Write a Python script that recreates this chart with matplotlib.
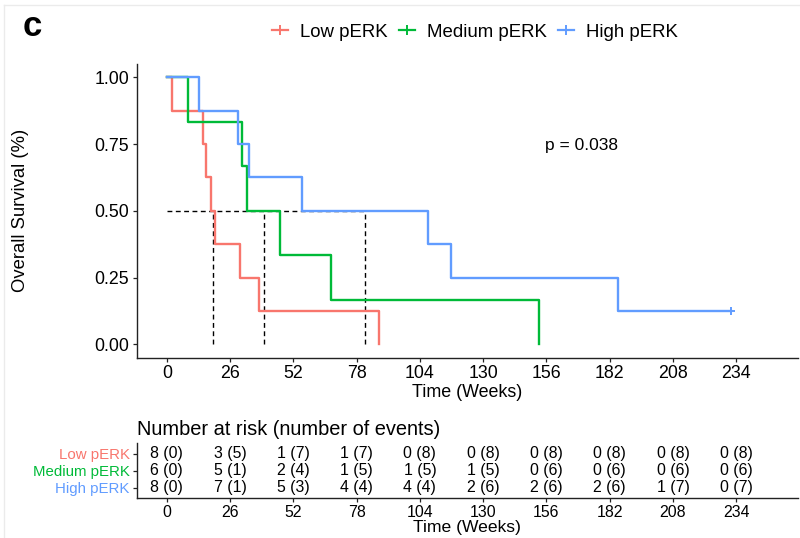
import numpy as np
import matplotlib
matplotlib.use('Agg')
import matplotlib.pyplot as plt
from matplotlib.lines import Line2D

plt.rcParams['font.family'] = ['Liberation Sans', 'DejaVu Sans']

# ---------------- data ----------------
groups = ['Low pERK', 'Medium pERK', 'High pERK']
colors = ['#F8766D', '#00BA38', '#619CFF']

low_times = [2.0, 15.0, 16.2, 18.3, 19.8, 29.9, 38.0, 87.0]
low_events = [1, 1, 1, 1, 1, 1, 1, 1]
med_times = [8.5, 31.0, 33.1, 46.7, 67.4, 153.1]
med_events = [1, 1, 1, 1, 1, 1]
high_times = [13.1, 29.2, 33.8, 55.4, 107.5, 116.7, 185.5, 232.0]
high_events = [1, 1, 1, 1, 1, 1, 1, 0]

risk_times = [0, 26, 52, 78, 104, 130, 156, 182, 208, 234]
low_risk = [8, 3, 1, 1, 0, 0, 0, 0, 0, 0]
low_cum_events = [0, 5, 7, 7, 8, 8, 8, 8, 8, 8]
med_risk = [6, 5, 2, 1, 1, 1, 0, 0, 0, 0]
med_cum_events = [0, 1, 4, 5, 5, 5, 6, 6, 6, 6]
high_risk = [8, 7, 5, 4, 4, 2, 2, 2, 1, 0]
high_cum_events = [0, 1, 3, 4, 4, 6, 6, 6, 7, 7]

p_value_text = 'p = 0.038'


def km(times, events):
    t = np.asarray(times, float)
    e = np.asarray(events, int)
    o = np.argsort(t)
    t, e = t[o], e[o]
    n = len(t)
    xs, ys, cens = [0.0], [1.0], []
    s = 1.0
    for i, (ti, ei) in enumerate(zip(t, e)):
        r = n - i
        if ei:
            s *= (r - 1) / r
            xs.append(ti)
            ys.append(s)
        else:
            cens.append((ti, s))
    if not e[-1]:
        xs.append(t[-1])
        ys.append(s)
    return xs, ys, cens


def km_median(xs, ys):
    for i, y in enumerate(ys):
        if y <= 0.5 + 1e-9:
            if abs(y - 0.5) < 1e-9 and i + 1 < len(xs):
                return (xs[i] + xs[i + 1]) / 2
            return xs[i]
    return None


series = [(low_times, low_events), (med_times, med_events), (high_times, high_events)]
risk = [(low_risk, low_cum_events), (med_risk, med_cum_events), (high_risk, high_cum_events)]

W, H = 800, 538
fig = plt.figure(figsize=(8, 5.38), dpi=100)

def fx(px):
    return px / W

def fy(py):
    return 1 - py / H

xlim = (-12.4, 259.4)
ax_left, ax_right = 136.7, 798.0

# main axes
ax = fig.add_axes([fx(ax_left), fy(357.7), fx(ax_right) - fx(ax_left), fy(63.9) - fy(357.7)])
medians = []
for (t, e), c in zip(series, colors):
    xs, ys, cens = km(t, e)
    ax.step(xs, ys, where='post', color=c, lw=1.7, zorder=3)
    for ct, cs in cens:
        ax.plot([ct], [cs], marker='+', color=c, ms=6, mew=1.4, zorder=4)
    medians.append(km_median(xs, ys))

dash = (0, (3.5, 2.5))
ax.plot([0, max(medians)], [0.5, 0.5], color='black', lw=1.0, linestyle=dash, zorder=2)
for m in medians:
    ax.plot([m, m], [0, 0.5], color='black', lw=1.0, linestyle=dash, zorder=2)

ax.text(170.6, 0.744, p_value_text, ha='center', va='center', fontsize=12.5)

ax.set_xlim(*xlim)
ax.set_ylim(-0.05, 1.05)
ax.set_xticks(risk_times)
ax.set_yticks([0, 0.25, 0.5, 0.75, 1.0])
ax.set_yticklabels(['0.00', '0.25', '0.50', '0.75', '1.00'])
for s in ['top', 'right']:
    ax.spines[s].set_visible(False)
for s in ['left', 'bottom']:
    ax.spines[s].set_linewidth(1.0)
    ax.spines[s].set_color('#222222')
ax.tick_params(direction='out', length=3, width=0.9, color='#222222',
               labelsize=12.8, pad=2.5, labelcolor='black')
ax.set_xlabel('Time (Weeks)', fontsize=12.9, labelpad=1.5)
ax.set_ylabel('Overall Survival (%)', fontsize=13.3)
ax.yaxis.set_label_coords((29 - ax_left) / (ax_right - ax_left), 0.5)

# legend
handles = [Line2D([], [], color=c, lw=1.6, marker='+', ms=7, mew=1.4) for c in colors]
fig.legend(handles, groups, loc='center left', bbox_to_anchor=(fx(272.0), fy(32.0)),
           ncol=3, frameon=False, fontsize=13.4, handlelength=0.85, handletextpad=0.65,
           columnspacing=0.62, borderpad=0, borderaxespad=0)

fig.text(fx(32), fy(26.5), 'c', fontsize=25, fontweight='bold', ha='center', va='center')

# risk table
ax2 = fig.add_axes([fx(ax_left), fy(497.7), fx(ax_right) - fx(ax_left), fy(443.3) - fy(497.7)])
ypos = [3, 2, 1]
for (nr, ne), yp in zip(risk, ypos):
    for tt, a, b in zip(risk_times, nr, ne):
        ax2.text(tt, yp, f'{a} ({b})', ha='center', va='center', fontsize=11.4)
ax2.set_xlim(*xlim)
ax2.set_ylim(0.4, 3.6)
ax2.set_xticks(risk_times)
ax2.set_yticks(ypos)
ax2.set_yticklabels(groups)
for s in ['top', 'right']:
    ax2.spines[s].set_visible(False)
for s in ['left', 'bottom']:
    ax2.spines[s].set_linewidth(1.0)
    ax2.spines[s].set_color('#222222')
ax2.tick_params(axis='x', direction='out', length=3, width=0.9, color='#222222',
                labelsize=11.4, pad=2)
ax2.tick_params(axis='y', direction='out', length=3, width=0.9, color='#222222',
                labelsize=10.8, pad=2)
for lab, c in zip(ax2.get_yticklabels(), colors):
    lab.set_color(c)
ax2.set_xlabel('Time (Weeks)', fontsize=12.6, labelpad=0.5)
ax2.set_title('Number at risk (number of events)', fontsize=14.4, loc='left', pad=6)

# faint panel border
fig.add_artist(Line2D([fx(4), 1], [fy(5), fy(5)], color='#ebebeb', lw=1))
fig.add_artist(Line2D([fx(4), fx(4)], [fy(5), 0], color='#ebebeb', lw=1))

fig.savefig('out.png', dpi=100)
